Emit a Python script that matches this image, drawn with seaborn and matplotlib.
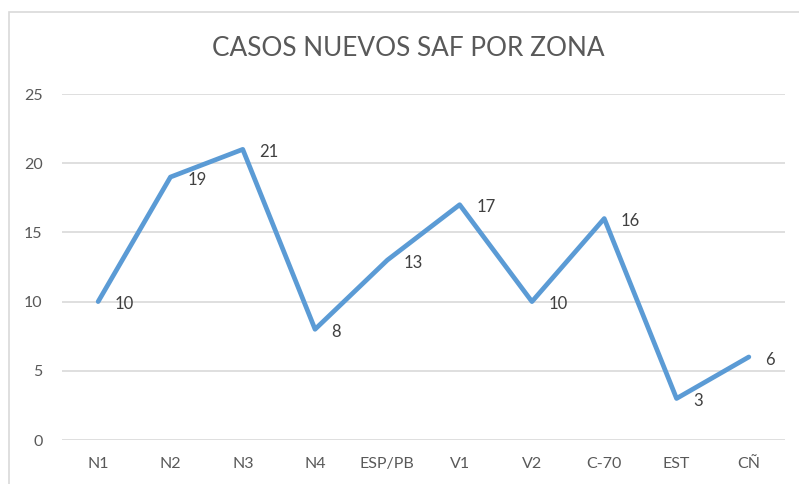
import matplotlib
matplotlib.use("Agg")
import matplotlib.pyplot as plt
import seaborn as sns
import pandas as pd
from matplotlib.patches import Rectangle

# data
zonas = ["N1", "N2", "N3", "N4", "ESP/PB", "V1", "V2", "C-70", "EST", "CÑ"]
casos = [10, 19, 21, 8, 13, 17, 10, 16, 3, 6]

df = pd.DataFrame({"zona": zonas, "casos": casos})
df["pos"] = range(len(df))

sns.set_style("white")
plt.rcParams["font.family"] = ["Lato", "DejaVu Sans"]

gris = "#595959"
azul = "#5B9BD5"

fig = plt.figure(figsize=(7.99, 4.84), dpi=100)
# outer chart border (cropped on right/bottom like the screenshot)
fig.patches.append(Rectangle((9 / 799, -0.1), 1.2, 1 - 12 / 484 + 0.1,
                             transform=fig.transFigure, fill=False,
                             edgecolor="#d9d9d9", linewidth=1.2))

ax = fig.add_axes([62 / 799, 1 - 440 / 484, (785 - 62) / 799, (440 - 94) / 484])
sns.lineplot(data=df, x="pos", y="casos", ax=ax, color=azul, linewidth=3.4)

for x, y in zip(df["pos"], df["casos"]):
    ax.annotate(str(y), (x, y), xytext=(12, -2), textcoords="offset points",
                ha="left", va="center", fontsize=12, color="#404040")

ax.set_xlim(-0.5, len(zonas) - 0.5)
ax.set_ylim(0, 25)
ax.set_yticks(range(0, 26, 5))
ax.set_xticks(df["pos"])
ax.set_xticklabels(zonas)
ax.tick_params(axis="both", length=0, labelsize=11.5, colors=gris)
ax.tick_params(axis="y", pad=14)
ax.tick_params(axis="x", pad=12)
ax.yaxis.grid(True, color="#d9d9d9", linewidth=1.2)
ax.set_axisbelow(True)
for s in ax.spines.values():
    s.set_visible(False)
ax.set_xlabel("")
ax.set_ylabel("")

fig.text(408 / 799, 1 - 48 / 484, "CASOS NUEVOS SAF POR ZONA", ha="center",
         va="center", fontsize=18.8, color=gris)

fig.savefig("out.png", dpi=100)
